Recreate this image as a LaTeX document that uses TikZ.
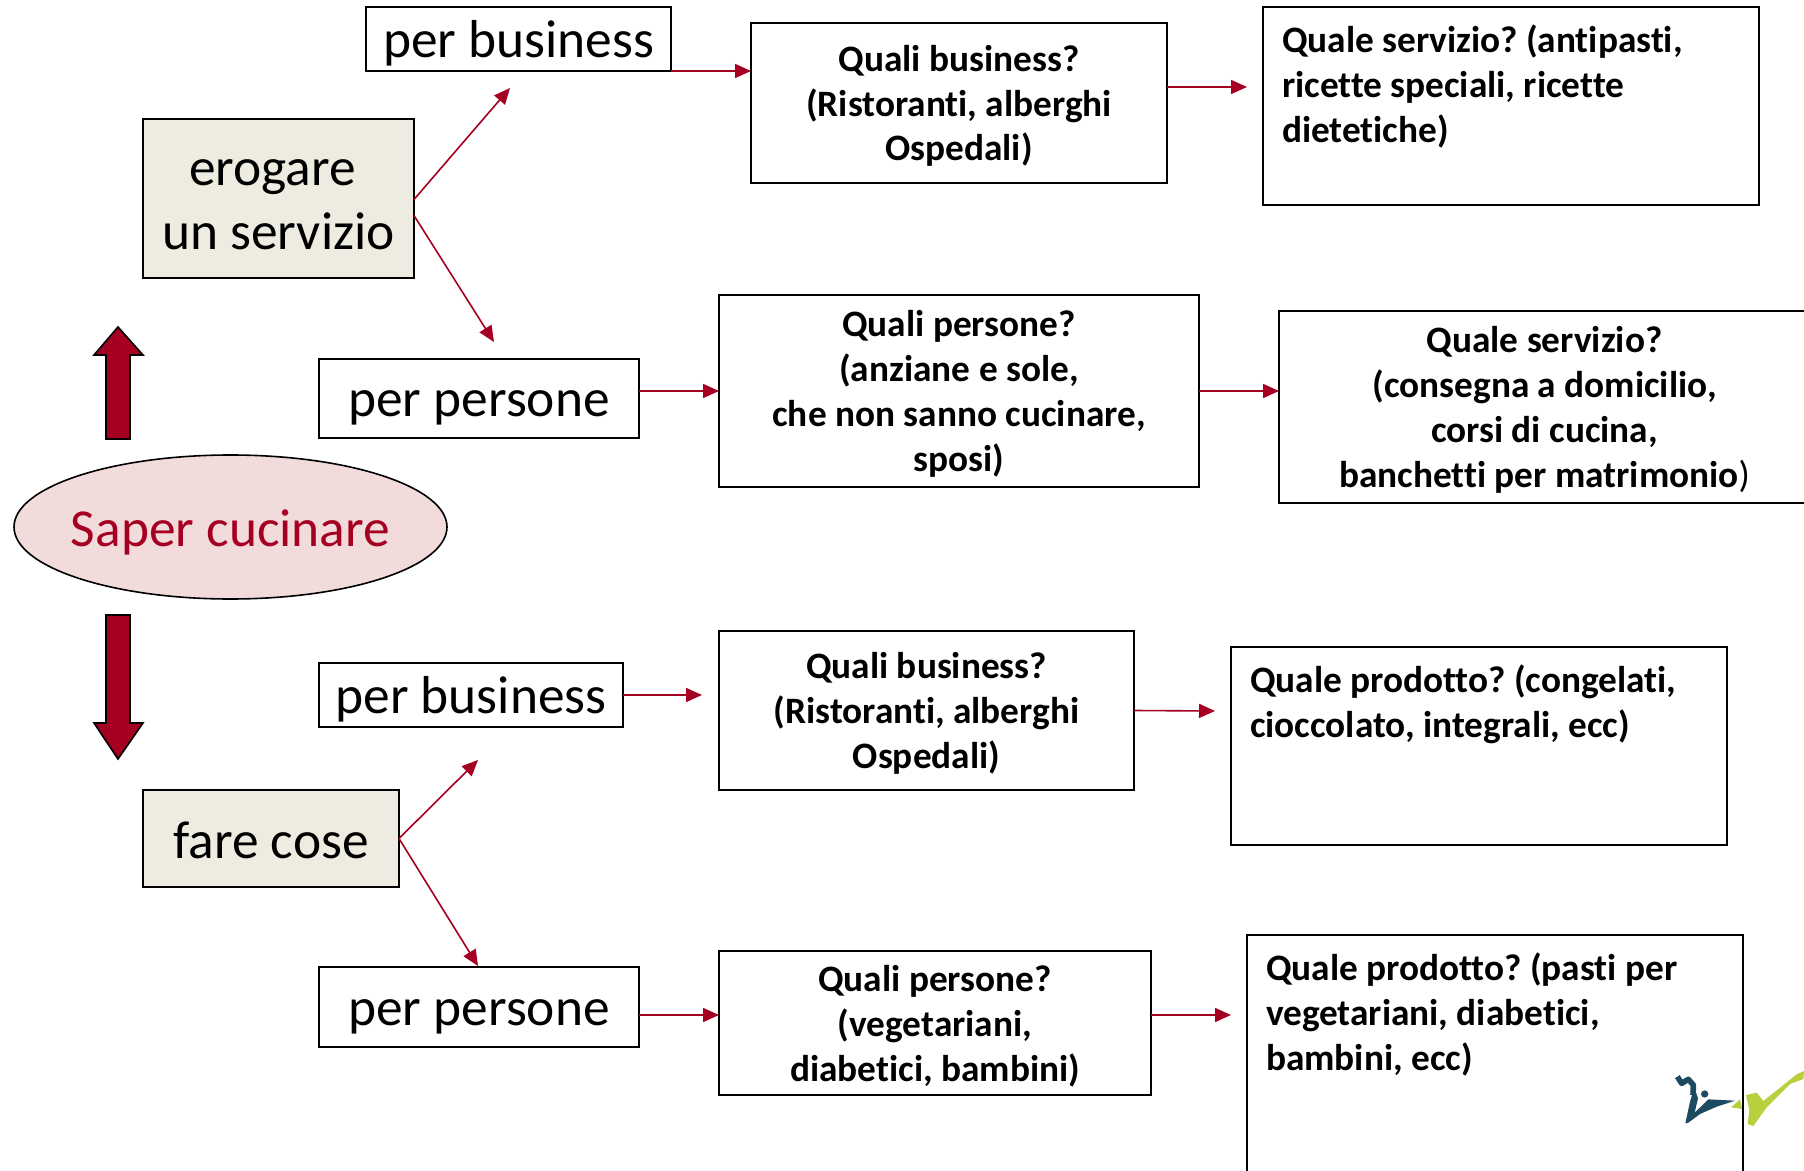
\documentclass[tikz,border=0pt]{standalone}
\usepackage{fontspec}
\setmainfont{Carlito}[Ligatures=NoCommon]
\usetikzlibrary{arrows.meta,shapes.geometric}
\definecolor{cred}{HTML}{A50021}
\definecolor{cpink}{HTML}{F2DCDB}
\definecolor{ctan}{HTML}{EEECE1}
\definecolor{clogoa}{HTML}{1D4A60}
\definecolor{clogob}{HTML}{B9CF3E}
\newcommand\lift[1]{\rule{0pt}{#1}}
\tikzset{
  qbox/.style={draw=black,line width=1pt,inner sep=0pt,outer sep=0pt,align=center,
    font=\fontsize{18.65}{22.45}\selectfont\bfseries\frenchspacing},
  lbox/.style={draw=black,line width=1pt,inner ysep=0pt,inner xsep=9.5pt,outer sep=0pt,align=flush left,
    font=\fontsize{18.65}{22.45}\selectfont\bfseries\frenchspacing,text width=229pt},
  tbox/.style={draw=black,line width=1pt,inner sep=0pt,outer sep=0pt,align=center,
    font=\fontsize{26.7}{32}\selectfont},
  gbox/.style={tbox,fill=ctan},
  link/.style={draw=cred,line width=0.8pt,-{Triangle[length=8pt,width=7pt]}},
  bigarrow/.style={draw=black,line width=0.8pt,fill=cred,line join=miter},
}
\begin{document}
\begin{tikzpicture}[x=0.5pt,y=-0.5pt]
\useasboundingbox (0,0) rectangle (1804,1171);
\clip (0,0) rectangle (1804,1171);
% logo
\begin{scope}[shift={(1600,1030)},x=0.16667pt,y=-0.16667pt]
  \draw[clogoa,line width=2.8pt,line join=round] (232,140) -- (245,160) -- (265,148) -- (280,165) -- (279,195);
  \fill[clogoa] (256,280) -- (270,215) -- (283,172) -- (294,205) -- (284,248) -- (325,208) -- (405,212) -- (350,230) -- (300,252) -- (265,278) -- cycle;
  \fill[clogoa] (314,192) circle (11);
  \fill[clogob] (438,195) -- (470,188) -- (490,213) -- (590,133) -- (612,123) -- (610,147) -- (570,162) -- (500,232) -- (460,288) -- (443,282) -- (448,240) -- cycle;
  \fill[clogob] (393,232) -- (420,208) -- (427,237) -- cycle;
\end{scope}
% central ellipse
\node[ellipse,draw=black,line width=0.8pt,fill=cpink,inner xsep=-3.5pt,inner ysep=0pt,outer sep=0pt,
  minimum width=216.5pt,minimum height=72pt,text=cred,font=\fontsize{26.7}{31}\selectfont]
  (core) at (230.5,527) {\lift{23.5pt}Saper cucinare};
% big arrows
\filldraw[bigarrow] (118,327) -- (143,355) -- (130,355) -- (130,439) -- (106,439) -- (106,355) -- (94,355) -- cycle;
\filldraw[bigarrow] (118,759) -- (143,723) -- (130,723) -- (130,615) -- (106,615) -- (106,723) -- (94,723) -- cycle;
% upper branch
\node[gbox,minimum width=135.5pt,minimum height=79.5pt] (erog) at (278.5,198.5) {\lift{19pt}erogare\hspace*{6pt}\\un servizio};
\node[tbox,minimum width=152.5pt,minimum height=32pt] (pb1) at (518.5,39) {\lift{23pt}per business};
\node[tbox,minimum width=160pt,minimum height=39.5pt] (pp1) at (479,398.5) {\lift{22.5pt}per persone};
\node[qbox,minimum width=208pt,minimum height=80pt] (q1) at (959,103) {\lift{16pt}Quali business?\\(Ristoranti, alberghi\\Ospedali)};
\node[qbox,minimum width=240pt,minimum height=96pt] (q2) at (959,391) {\lift{16pt}Quali persone?\\(anziane e sole,\\che non sanno cucinare,\\sposi)};
\node[lbox,minimum height=99pt] (s1) at (1511,106) {Quale servizio? (antipasti,\\ricette speciali, ricette\\dietetiche)\\~};
\node[qbox,minimum width=265.5pt,minimum height=96pt] (s2) at (1544.5,407) {\lift{16pt}Quale servizio?\\(consegna a domicilio,\\corsi di cucina,\\banchetti per matrimonio{\mdseries)}};
% lower branch
\node[gbox,minimum width=128pt,minimum height=48.5pt] (fare) at (271,838.5) {\lift{20pt}fare cose};
\node[tbox,minimum width=152pt,minimum height=32pt] (pb2) at (471,695) {\lift{23pt}per business};
\node[tbox,minimum width=160pt,minimum height=40pt] (pp2) at (479,1007) {\lift{22.5pt}per persone};
\node[qbox,minimum width=207.5pt,minimum height=79.5pt] (q3) at (926.5,710.5) {\lift{16pt}Quali business?\\(Ristoranti, alberghi\\Ospedali)};
\node[qbox,minimum width=216pt,minimum height=72pt] (q4) at (935,1023) {\lift{16pt}Quali persone?\\(vegetariani,\\diabetici, bambini)};
\node[lbox,minimum height=99pt] (s3) at (1479,746) {Quale prodotto? (congelati,\\cioccolato, integrali, ecc)\\~\\~};
\node[lbox,minimum height=121.7pt] (s4) at (1495,1056.7) {Quale prodotto? (pasti per\\vegetariani, diabetici,\\bambini, ecc)\\~\\~};
% free ends
\coordinate (e1) at (1247,87);
\coordinate (u1) at (510,88);
\coordinate (d1) at (494,342);
\coordinate (e2) at (702,695);
\coordinate (e3) at (1215,711);
\coordinate (u2) at (478,760);
\coordinate (d2) at (478,966);
\coordinate (e4) at (1231,1015);
% connectors
\draw[link] (erog.east) ++(0,1) -- (u1);
\path (erog.east) ++(0,17) coordinate (erogb);
\draw[link] (erogb) -- (d1);
\draw[link] (pb1.south east) -- (pb1.south east -| q1.west);
\draw[link] (q1.east |- e1) -- (e1);
\draw[link] (pp1.east |- q2.west) -- (q2.west);
\draw[link] (q2.east) -- (q2.east -| s2.west);
\draw[link] (pb2.east) -- (e2);
\draw[link] (q3.east) -- (e3);
\draw[link] (fare.east) -- (u2);
\draw[link] (fare.east) -- (d2);
\draw[link] (pp2.east |- e4) -- (q4.west |- e4);
\draw[link] (q4.east |- e4) -- (e4);
\end{tikzpicture}
\end{document}
